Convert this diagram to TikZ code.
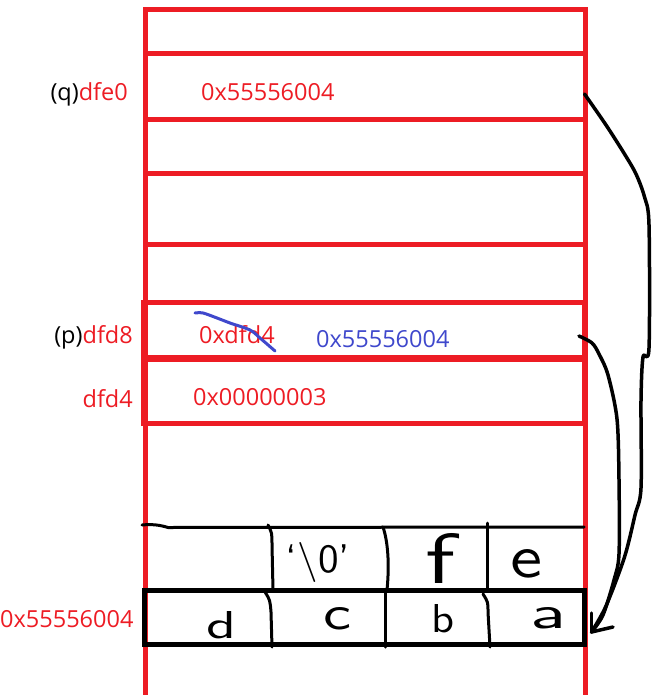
\documentclass[tikz,border=0pt]{standalone}
\usepackage{fontspec}
\setmainfont{Open Sans}
\usepackage{graphicx}
\definecolor{pred}{HTML}{ED1C24}
\definecolor{pblue}{HTML}{3F48CC}
\begin{document}
\begin{tikzpicture}[x=1pt,y=-1pt,
  redline/.style={draw=pred,line width=5pt,line join=miter},
  blkthin/.style={draw=black,line width=3pt,line cap=round},
  lbl/.style={inner sep=0pt,font=\fontsize{23.5}{28}\selectfont},
  hand/.style={inner sep=0pt,text=black,font=\sffamily},
  curve/.style={draw=black,line width=3.5pt,line cap=round,line join=round}]
\useasboundingbox (0,0) rectangle (652,695);
% red memory column
\draw[redline] (145,695) -- (145,10) -- (585,10) -- (585,695);
\foreach \yy in {54,119.5,173,244}{\draw[redline] (145,\yy) -- (585,\yy);}
\draw[redline] (143.5,302.5) rectangle (584,357.5);
\draw[redline] (143.5,359.5) rectangle (584,423);
% bottom char cells
\draw[blkthin] (142,525) .. controls (152,524) and (160,525) .. (168,527.5) -- (584,527);
\draw[black,line width=5.5pt] (144.5,590.5) rectangle (584.5,644.5);
\draw[blkthin] (268,525) .. controls (272,533) .. (272,545) -- (273,590);
\draw[blkthin] (383,527) .. controls (389,545) and (389,570) .. (387,590);
\draw[blkthin] (487,523) -- (487,590);
\draw[blkthin] (265,592) .. controls (270,600) .. (271,612) -- (272,647);
\draw[blkthin] (385,592) -- (385,647);
\draw[blkthin] (483,594) .. controls (488,602) .. (488,612) -- (490,647);
% hand-written characters
\node[hand] (ce) at (526,564) {\resizebox{32pt}{28pt}{e}};
\node[hand] (cf) at (440,558) {\resizebox{30pt}{50pt}{f}};
\node[hand] (cz) at (318,562) {\resizebox*{64pt}{40pt}{`\textbackslash 0'}};
\node[hand] (ca) at (548,618) {\resizebox{36pt}{21pt}{a}};
\node[hand] (cb) at (443,619) {\resizebox{23pt}{28pt}{b}};
\node[hand] (cc) at (337,619) {\resizebox{28pt}{22pt}{c}};
\node[hand] (cd) at (221,625) {\resizebox{30pt}{27pt}{d}};
% labels
\node[lbl,anchor=base east] (qlab) at (128,101) {(q)\textcolor{pred}{dfe0}};
\node[lbl,anchor=base west,text=pred] (qval) at (201,101) {0x55556004};
\node[lbl,anchor=base east] (plab) at (133,343) {(p)\textcolor{pred}{dfd8}};
\node[lbl,anchor=base west,text=pred] (pold) at (199,343) {0xdfd4};
\node[lbl,anchor=base west,text=pblue] (pnew) at (316,347) {0x55556004};
\node[lbl,anchor=base east,text=pred] (dlab) at (133,407) {dfd4};
\node[lbl,anchor=base west,text=pred] (dval) at (193,405) {0x00000003};
\node[lbl,anchor=base west,text=pred] (alab) at (0,627) {0x55556004};
% strike-through
\draw[draw=pblue,line width=3pt,line cap=round] plot[smooth,tension=0.5] coordinates {(195,313) (203,313) (217,318) (230,323) (250,330) (260,338) (275,351)};
% pointer arrows
\coordinate (qsrc) at (584.5,94);
\coordinate (psrc) at (579,336);
\coordinate (tip) at (591.5,632);
\draw[curve] plot[smooth,tension=0.5] coordinates {(qsrc) (606,125) (624.5,154) (636,174) (644.5,197) (649,225) (649,348) (643,357) (641,400) (641,488) (635,515) (624.5,557) (606,606) (tip)};
\draw[curve] plot[smooth,tension=0.5] coordinates {(psrc) (592,343) (599,354) (608,375) (617,419) (619,480) (619,554) (614,580) (603,615) (tip)};
\draw[curve] (tip) -- ++(0,-19);
\draw[curve] (tip) -- (613,627);
\end{tikzpicture}
\end{document}
